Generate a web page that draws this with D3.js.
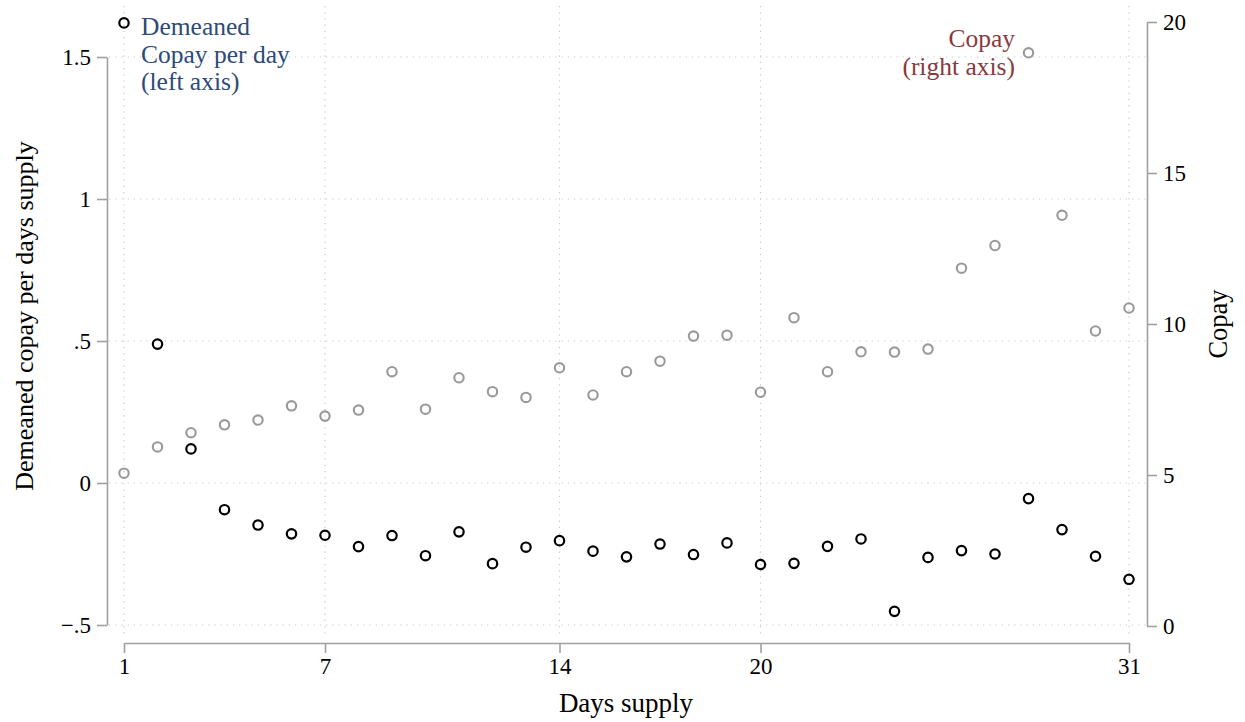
<!DOCTYPE html>
<html>
<head>
<meta charset="utf-8">
<script src="https://cdn.jsdelivr.net/npm/d3@7"></script>
<style>
  body { margin: 0; background: #fff; }
  text { font-family: "Liberation Serif", "Times New Roman", serif; }
</style>
</head>
<body>
<svg id="chart"></svg>
<script>
// data
const daysSupply = d3.range(1, 32);
const demeaned = [1.62, 0.489, 0.12, -0.094, -0.148, -0.179, -0.184, -0.224, -0.185, -0.256,
    -0.172, -0.284, -0.226, -0.203, -0.24, -0.26, -0.215, -0.252, -0.211, -0.287,
    -0.283, -0.223, -0.197, -0.452, -0.262, -0.238, -0.25, -0.055, -0.164, -0.258, -0.339];
const copay = [5.06, 5.93, 6.4, 6.66, 6.82, 7.29, 6.95, 7.15, 8.42, 7.18,
    8.22, 7.76, 7.57, 8.55, 7.65, 8.42, 8.77, 9.6, 9.63, 7.74,
    10.21, 8.42, 9.08, 9.07, 9.17, 11.85, 12.6, 18.98, 13.6, 9.77, 10.53];

const xTicks = [1, 7, 14, 20, 31];
const leftTicks = [-0.5, 0, 0.5, 1, 1.5];
const leftTickLabels = ["\u2212.5", "0", ".5", "1", "1.5"];
const rightTicks = [0, 5, 10, 15, 20];

const width = 1245, height = 722;
const svg = d3.select("#chart")
    .attr("width", width)
    .attr("height", height);

const x = d3.scaleLinear().domain([1, 31]).range([124, 1129]);
const yL = d3.scaleLinear().domain([-0.5, 1.5]).range([625, 57]);
const yR = d3.scaleLinear().domain([0, 20]).range([626, 22]);

const axisColor = "#a0a0a0";
const gridColor = "#c8c8c8";

// grid
svg.append("g")
    .selectAll("line")
    .data(leftTicks)
    .enter()
    .append("line")
    .attr("x1", 109)
    .attr("x2", 1146)
    .attr("y1", d => yL(d))
    .attr("y2", d => yL(d))
    .attr("stroke", gridColor)
    .attr("stroke-width", 1.2)
    .attr("stroke-dasharray", "1.2,5");

svg.append("g")
    .selectAll("line")
    .data(xTicks)
    .enter()
    .append("line")
    .attr("x1", d => x(d))
    .attr("x2", d => x(d))
    .attr("y1", 6)
    .attr("y2", 637)
    .attr("stroke", gridColor)
    .attr("stroke-width", 1.2)
    .attr("stroke-dasharray", "1.2,5");

// axes
function styleAxis(g) {
    g.select(".domain").attr("stroke", axisColor).attr("stroke-width", 1.6);
    g.selectAll(".tick line").attr("stroke", axisColor).attr("stroke-width", 1.6);
    g.selectAll(".tick text")
        .attr("fill", "#000")
        .attr("font-size", 23)
        .attr("font-family", "Liberation Serif, serif");
}

svg.append("g")
    .attr("transform", "translate(0,643)")
    .call(d3.axisBottom(x).tickValues(xTicks).tickSize(10).tickSizeOuter(0).tickPadding(5)
        .tickFormat(d3.format("d")))
    .call(styleAxis);

svg.append("g")
    .attr("transform", "translate(107,0)")
    .call(d3.axisLeft(yL).tickValues(leftTicks).tickSize(10).tickSizeOuter(0).tickPadding(6)
        .tickFormat((d, i) => leftTickLabels[i]))
    .call(styleAxis);

svg.append("g")
    .attr("transform", "translate(1147,0)")
    .call(d3.axisRight(yR).tickValues(rightTicks).tickSize(10).tickSizeOuter(0).tickPadding(6)
        .tickFormat(d3.format("d")))
    .call(styleAxis);

// axis titles
svg.append("text")
    .attr("x", 626)
    .attr("y", 712)
    .attr("text-anchor", "middle")
    .attr("font-size", 27)
    .text("Days supply");

svg.append("text")
    .attr("transform", "translate(33,316) rotate(-90)")
    .attr("text-anchor", "middle")
    .attr("font-size", 26)
    .text("Demeaned copay per days supply");

svg.append("text")
    .attr("transform", "translate(1227,324) rotate(-90)")
    .attr("text-anchor", "middle")
    .attr("font-size", 26.5)
    .text("Copay");

// points
svg.append("g")
    .selectAll("circle")
    .data(daysSupply)
    .enter()
    .append("circle")
    .attr("cx", d => x(d))
    .attr("cy", (d, i) => yR(copay[i]))
    .attr("r", 4.7)
    .attr("fill", "none")
    .attr("stroke", "#999")
    .attr("stroke-width", 2.1);

svg.append("g")
    .selectAll("circle")
    .data(daysSupply)
    .enter()
    .append("circle")
    .attr("cx", d => x(d))
    .attr("cy", (d, i) => yL(demeaned[i]))
    .attr("r", 4.7)
    .attr("fill", "none")
    .attr("stroke", "#000")
    .attr("stroke-width", 2.2);

// labels in the plot
const blueLines = ["Demeaned", "Copay per day", "(left axis)"];
const redLines = ["Copay", "(right axis)"];

svg.append("g")
    .selectAll("text")
    .data(blueLines)
    .enter()
    .append("text")
    .attr("x", 141)
    .attr("y", (d, i) => 35 + i * 27.5)
    .attr("font-size", 25.5)
    .attr("fill", "#2d4a79")
    .text(d => d);

svg.append("g")
    .selectAll("text")
    .data(redLines)
    .enter()
    .append("text")
    .attr("x", 1015)
    .attr("y", (d, i) => 47 + i * 27.5)
    .attr("text-anchor", "end")
    .attr("font-size", 25.5)
    .attr("fill", "#8a3a3e")
    .text(d => d);
</script>
</body>
</html>
